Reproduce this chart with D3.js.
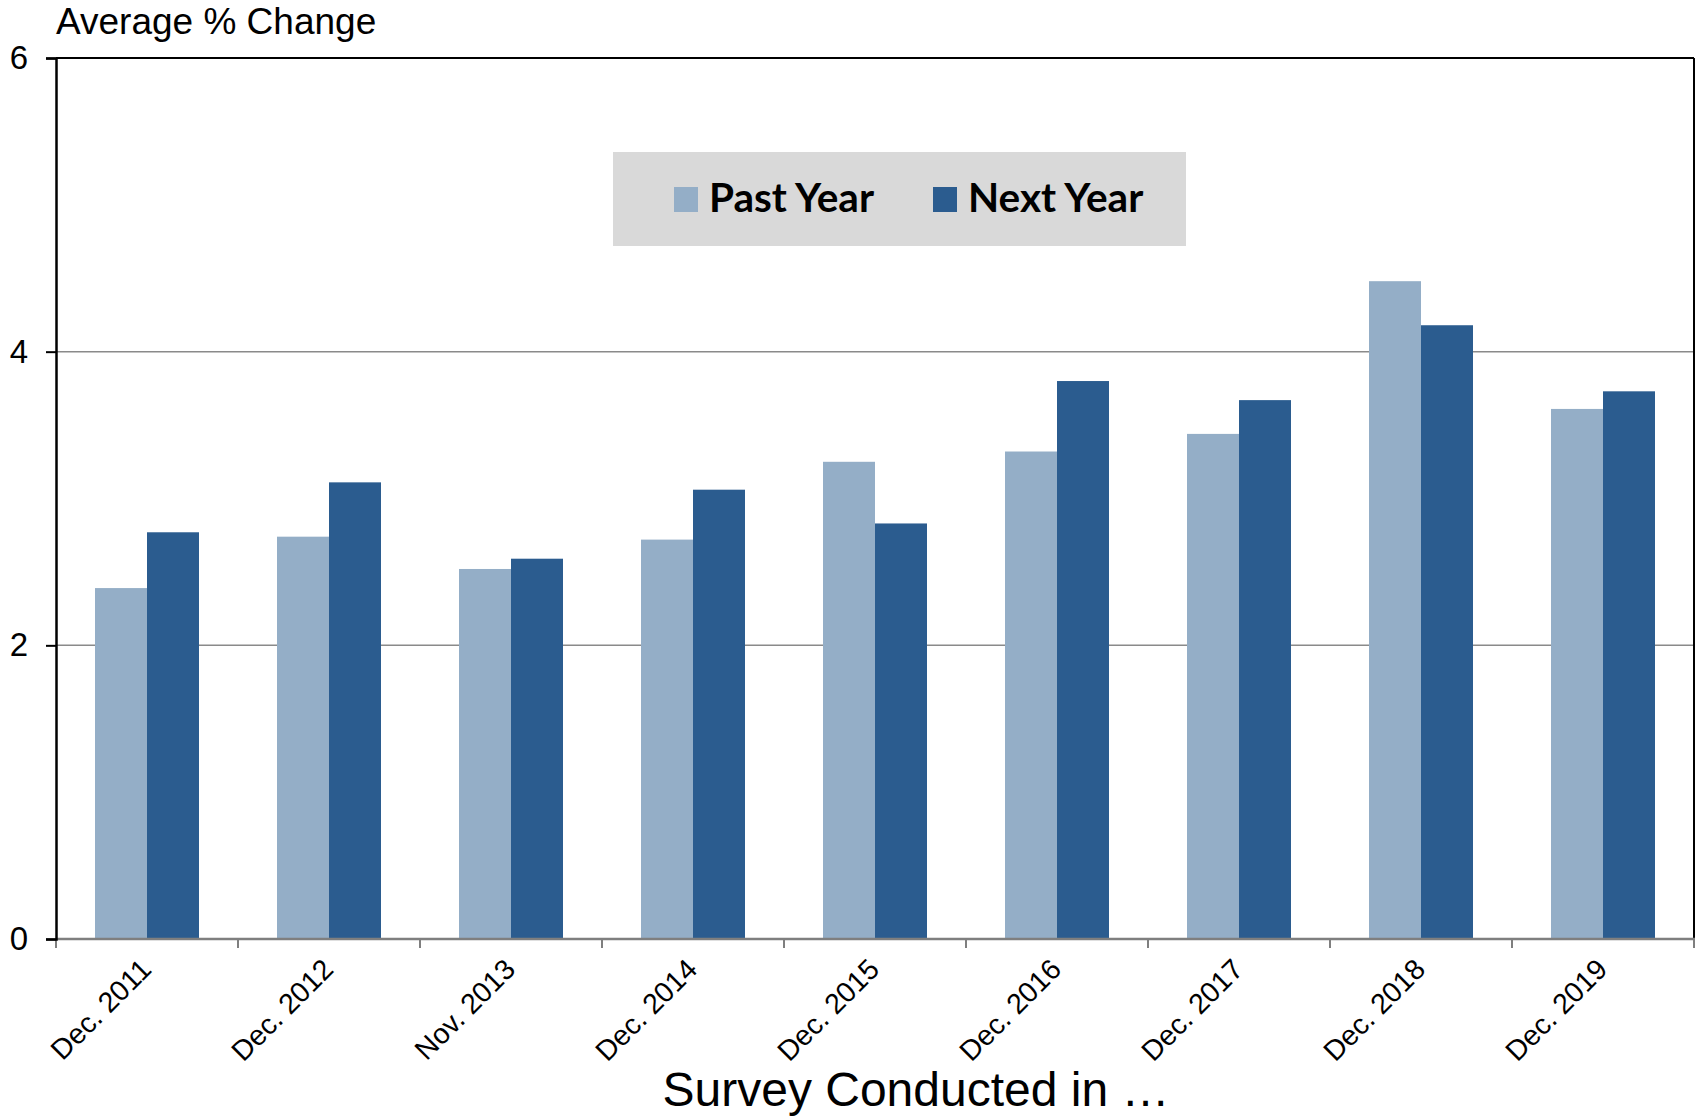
<!DOCTYPE html>
<html>
<head>
<meta charset="utf-8">
<script src="https://cdn.jsdelivr.net/npm/d3@7"></script>
<style>
  body { margin: 0; background: #fff; }
  svg { display: block; }
</style>
</head>
<body>
<div id="chart"></div>
<script>
// survey dates and the two series
const categories = ['Dec. 2011', 'Dec. 2012', 'Nov. 2013', 'Dec. 2014', 'Dec. 2015', 'Dec. 2016', 'Dec. 2017', 'Dec. 2018', 'Dec. 2019'];
const seriesNames = ['Past Year', 'Next Year'];
const pastYear = [2.39, 2.74, 2.52, 2.72, 3.25, 3.32, 3.44, 4.48, 3.61];
const nextYear = [2.77, 3.11, 2.59, 3.06, 2.83, 3.80, 3.67, 4.18, 3.73];
const yTicks = [0, 2, 4, 6];

const colors = { 'Past Year': '#94aec7', 'Next Year': '#2b5c8f' };

const width = 1698;
const height = 1118;
const plotLeft = 56, plotRight = 1694, plotTop = 58, plotBottom = 939;

const rows = categories.map((c, i) => ({ cat: c, values: [
  { key: seriesNames[0], value: pastYear[i] },
  { key: seriesNames[1], value: nextYear[i] },
]}));

const svg = d3.select('#chart')
  .append('svg')
  .attr('width', width)
  .attr('height', height);

const x0 = d3.scaleBand().domain(categories).range([plotLeft, plotRight]).padding(0);
const x1 = d3.scaleBand().domain(seriesNames).range([0, x0.bandwidth()]).paddingInner(0).paddingOuter(0.75);
const y = d3.scaleLinear().domain([0, 6]).range([plotBottom, plotTop]);

// gridlines
svg.append('g')
  .selectAll('line')
  .data(yTicks.filter(t => t > 0 && t < 6))
  .enter()
  .append('line')
  .attr('x1', plotLeft).attr('x2', plotRight)
  .attr('y1', d => y(d)).attr('y2', d => y(d))
  .attr('stroke', '#8a8a8a')
  .attr('stroke-width', 1.5);

// bars
const group = svg.selectAll('g.cat')
  .data(rows)
  .enter()
  .append('g')
  .attr('class', 'cat')
  .attr('transform', d => `translate(${x0(d.cat)},0)`);

group.selectAll('rect')
  .data(d => d.values)
  .enter()
  .append('rect')
  .attr('x', d => x1(d.key))
  .attr('width', x1.bandwidth())
  .attr('y', d => y(d.value))
  .attr('height', d => y(0) - y(d.value))
  .attr('fill', d => colors[d.key]);

// frame: top and right borders
svg.append('line')
  .attr('x1', plotLeft).attr('x2', plotRight)
  .attr('y1', y(6)).attr('y2', y(6))
  .attr('stroke', '#000').attr('stroke-width', 2);
svg.append('line')
  .attr('x1', plotRight).attr('x2', plotRight)
  .attr('y1', y(6)).attr('y2', plotBottom)
  .attr('stroke', '#000').attr('stroke-width', 2);

// x axis, ticks between categories
const xAxis = svg.append('g');
xAxis.append('line')
  .attr('x1', plotLeft).attr('x2', plotRight + 1)
  .attr('y1', plotBottom).attr('y2', plotBottom)
  .attr('stroke', '#7f7f7f').attr('stroke-width', 2.5);
xAxis.selectAll('line.tick')
  .data(categories.map(c => x0(c)).concat([plotRight]))
  .enter()
  .append('line')
  .attr('class', 'tick')
  .attr('x1', d => d).attr('x2', d => d)
  .attr('y1', plotBottom).attr('y2', plotBottom + 9)
  .attr('stroke', '#7f7f7f').attr('stroke-width', 2);

xAxis.selectAll('text')
  .data(categories)
  .enter()
  .append('text')
  .attr('transform', d => `translate(${x0(d) + x0.bandwidth() / 2 + 6},${971}) rotate(-45)`)
  .attr('text-anchor', 'end')
  .style('font-family', 'Arial, "Liberation Sans", sans-serif')
  .style('font-size', '28.5px')
  .style('fill', '#000')
  .text(d => d);

// y axis
const yAxis = svg.append('g')
  .attr('transform', `translate(${plotLeft},0)`)
  .call(d3.axisLeft(y).tickValues(yTicks).tickSize(10).tickPadding(18).tickFormat(d3.format('d')));
yAxis.select('.domain').attr('stroke', '#000').attr('stroke-width', 2.5);
yAxis.selectAll('.tick line').attr('stroke', '#000').attr('stroke-width', 2);
yAxis.selectAll('.tick text')
  .style('font-family', 'Arial, "Liberation Sans", sans-serif')
  .style('font-size', '33px')
  .style('fill', '#000');

// titles
svg.append('text')
  .attr('x', 56).attr('y', 34)
  .style('font-family', 'Arial, "Liberation Sans", sans-serif')
  .style('font-size', '37px')
  .text('Average % Change');

svg.append('text')
  .attr('x', 916).attr('y', 1106)
  .attr('text-anchor', 'middle')
  .style('font-family', 'Arial, "Liberation Sans", sans-serif')
  .style('font-size', '48px')
  .text('Survey Conducted in …');

// legend
const legend = svg.append('g');
legend.append('rect')
  .attr('x', 613).attr('y', 152)
  .attr('width', 573).attr('height', 94)
  .attr('fill', '#d9d9d9');

const legendX = [674, 933];
seriesNames.forEach((name, i) => {
  legend.append('rect')
    .attr('x', legendX[i]).attr('y', 187)
    .attr('width', 24).attr('height', 25)
    .attr('fill', colors[name]);
  legend.append('text')
    .attr('x', legendX[i] + 35).attr('y', 212)
    .style('font-family', 'Lato, "Open Sans", sans-serif')
    .style('font-weight', 'bold')
    .style('font-size', '40.5px')
    .text(name);
});
</script>
</body>
</html>
